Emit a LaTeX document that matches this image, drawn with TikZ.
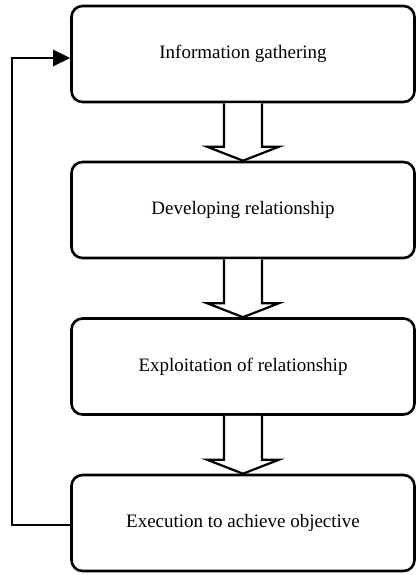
\documentclass[tikz,border=0pt]{standalone}
\usepackage{fontspec}
\setmainfont{Liberation Serif}
\usetikzlibrary{arrows.meta}
\begin{document}
\begin{tikzpicture}[x=1pt,y=-1pt,
  stagebox/.style={draw=black, line width=2.6pt, rounded corners=11pt, minimum width=343pt, minimum height=96pt, inner sep=0pt, font=\fontsize{19}{22}\selectfont, text=black},
  blockarrow/.style={draw=black, fill=white, line width=2.2pt, line join=miter},
  feedback/.style={draw=black, line width=2.6pt, -{Triangle[length=17pt,width=16pt]}}]
\useasboundingbox (0,0) rectangle (416,575);
\node[stagebox] (b1) at (243,54) {Information gathering};
\node[stagebox] (b2) at (243,210) {Developing relationship};
\node[stagebox] (b3) at (243,366.5) {Exploitation of relationship};
\node[stagebox] (b4) at (243,523) {Execution to achieve objective};
\foreach \a/\b in {b1/b2, b2/b3, b3/b4}{
  \draw[blockarrow]
    ([xshift=-19pt]\a.south)
    -- ([xshift=-19pt,yshift=14pt]\b.north)
    -- ([xshift=-36pt,yshift=14pt]\b.north)
    -- (\b.north)
    -- ([xshift=36pt,yshift=14pt]\b.north)
    -- ([xshift=19pt,yshift=14pt]\b.north)
    -- ([xshift=19pt]\a.south);
}
\coordinate (s4) at ([yshift=-2pt]b4.west);
\coordinate (e1) at ([yshift=-4pt]b1.west);
\coordinate (c4) at (12,0 |- s4);
\draw[feedback] (s4) -- (c4) |- (e1);
\end{tikzpicture}
\end{document}
